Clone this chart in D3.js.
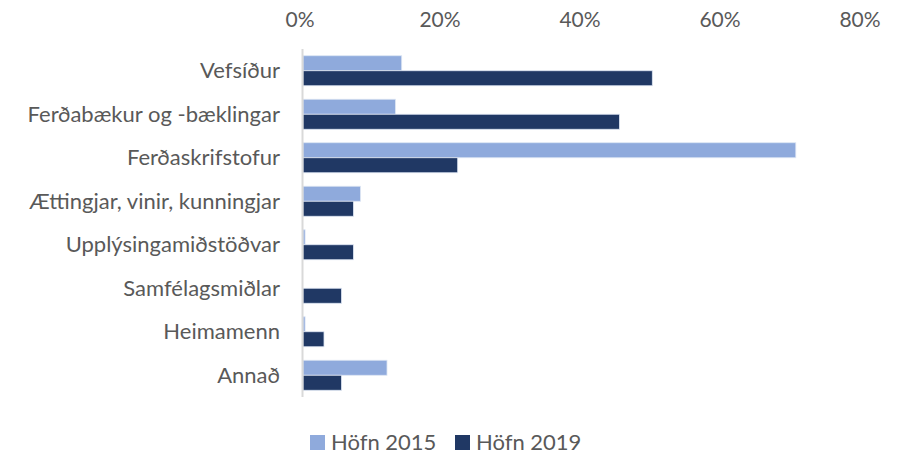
<!DOCTYPE html>
<meta charset="utf-8">
<script src="https://d3js.org/d3.v7.min.js"></script>
<style>
  body { margin: 0; background: #fff; }
  text { font-family: Lato, "Open Sans", sans-serif; fill: #595959; }
</style>
<body>
<div id="chart"></div>
<script>
  // data (percent)
  var categories = ["Vefsíður", "Ferðabækur og -bæklingar", "Ferðaskrifstofur",
    "Ættingjar, vinir, kunningjar", "Upplýsingamiðstöðvar", "Samfélagsmiðlar",
    "Heimamenn", "Annað"];
  var series = ["Höfn 2015", "Höfn 2019"];
  var values2015 = [14.1, 13.2, 70.4, 8.2, 0.3, 0, 0.3, 12.0];
  var values2019 = [49.9, 45.2, 22.1, 7.2, 7.2, 5.5, 3.0, 5.5];
  var ticks = [0, 20, 40, 60, 80];
  var colors = ["#8faadc", "#203864"];

  var W = 904, H = 454;
  var margin = { top: 49, right: 42, bottom: 57, left: 302 };
  var width = W - margin.left - margin.right,
      height = H - margin.top - margin.bottom;

  var svg = d3.select("#chart").append("svg")
    .attr("width", W).attr("height", H);
  var g = svg.append("g")
    .attr("transform", "translate(" + margin.left + "," + margin.top + ")");

  var x = d3.scaleLinear().domain([0, 80]).range([0, 560]);
  var y = d3.scaleBand().domain(categories).range([0, height]).paddingInner(0.31).paddingOuter(0.155);
  var ys = d3.scaleBand().domain(series).range([0, y.bandwidth()]);

  // top axis labels
  g.append("g").selectAll("text").data(ticks).enter().append("text")
    .attr("x", function (d) { return x(d) - 2; })
    .attr("y", -29)
    .attr("dy", "0.35em")
    .attr("text-anchor", "middle")
    .style("font-size", "21px")
    .text(function (d) { return d + "%"; });

  var rows = categories.map(function (c, i) {
    return { name: c, vals: [values2015[i], values2019[i]] };
  });

  var row = g.append("g").selectAll("g").data(rows).enter().append("g")
    .attr("transform", function (d) { return "translate(0," + y(d.name) + ")"; });

  row.selectAll("rect").data(function (d) {
      return d.vals.map(function (v, k) { return { s: series[k], v: v, k: k }; });
    })
    .enter().append("rect")
    .attr("x", x(0) + 1)
    .attr("y", function (d) { return ys(d.s); })
    .attr("width", function (d) { return x(d.v); })
    .attr("height", ys.bandwidth())
    .style("fill", function (d) { return colors[d.k]; })
    .style("stroke", function (d) { return d.v > 0 ? "#dde5f3" : "none"; })
    .style("stroke-width", 0.8);

  // category labels
  row.append("text")
    .attr("x", -22)
    .attr("y", y.bandwidth() / 2)
    .attr("dy", "0.35em")
    .attr("text-anchor", "end")
    .style("font-size", "22px")
    .text(function (d) { return d.name; });

  // vertical axis line
  g.append("line")
    .attr("x1", 0.5).attr("x2", 0.5)
    .attr("y1", 0).attr("y2", height)
    .style("stroke", "#d9d9d9").style("stroke-width", 2);

  // legend
  var legend = svg.append("g").attr("transform", "translate(310,442)");
  var item = legend.selectAll("g").data(series).enter().append("g")
    .attr("transform", function (d, i) { return "translate(" + (i * 145) + ",0)"; });
  item.append("rect")
    .attr("x", 0).attr("y", -7).attr("width", 15).attr("height", 15)
    .style("fill", function (d, i) { return colors[i]; });
  item.append("text")
    .attr("x", 21).attr("y", 0).attr("dy", "0.35em")
    .style("font-size", "22px")
    .text(function (d) { return d; });
</script>
</body>
